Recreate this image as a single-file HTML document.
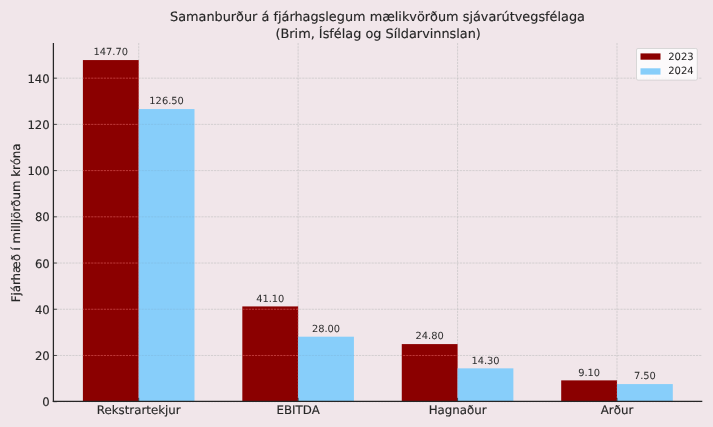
<!DOCTYPE html>
<html><head><meta charset="utf-8"><title>Samanburður</title>
<style>html,body{margin:0;padding:0;background:#f1e6ea;}body{width:713px;height:427px;overflow:hidden;}</style>
</head><body>
<svg width="713" height="427" viewBox="0 0 713 427" style="display:block;text-rendering:geometricPrecision;will-change:transform"><rect x="0" y="0" width="713" height="427" fill="#f1e6ea"/><defs><clipPath id="cr"><rect x="82.90" y="60.07" width="55.80" height="341.33"/><rect x="242.33" y="306.42" width="55.80" height="94.98"/><rect x="401.77" y="344.09" width="55.80" height="57.31"/><rect x="561.20" y="380.37" width="55.80" height="21.03"/></clipPath><clipPath id="cb"><rect x="138.70" y="109.06" width="55.80" height="292.34"/><rect x="298.13" y="336.69" width="55.80" height="64.71"/><rect x="457.57" y="368.35" width="55.80" height="33.05"/><rect x="617.00" y="384.07" width="55.80" height="17.33"/></clipPath></defs><g stroke="#c0c0c0" stroke-opacity="0.75" stroke-width="0.8" stroke-dasharray="2.2 0.95" fill="none"><line x1="53.40" y1="401.70" x2="702.30" y2="401.70"/><line x1="53.40" y1="355.48" x2="702.30" y2="355.48"/><line x1="53.40" y1="309.26" x2="702.30" y2="309.26"/><line x1="53.40" y1="263.04" x2="702.30" y2="263.04"/><line x1="53.40" y1="216.82" x2="702.30" y2="216.82"/><line x1="53.40" y1="170.60" x2="702.30" y2="170.60"/><line x1="53.40" y1="124.38" x2="702.30" y2="124.38"/><line x1="53.40" y1="78.16" x2="702.30" y2="78.16"/><line x1="138.70" y1="43.00" x2="138.70" y2="401.40"/><line x1="298.13" y1="43.00" x2="298.13" y2="401.40"/><line x1="457.57" y1="43.00" x2="457.57" y2="401.40"/><line x1="617.00" y1="43.00" x2="617.00" y2="401.40"/></g><g fill="#8b0000"><rect x="82.90" y="60.07" width="55.80" height="341.33"/><rect x="242.33" y="306.42" width="55.80" height="94.98"/><rect x="401.77" y="344.09" width="55.80" height="57.31"/><rect x="561.20" y="380.37" width="55.80" height="21.03"/></g><g fill="#87cefa"><rect x="138.70" y="109.06" width="55.80" height="292.34"/><rect x="298.13" y="336.69" width="55.80" height="64.71"/><rect x="457.57" y="368.35" width="55.80" height="33.05"/><rect x="617.00" y="384.07" width="55.80" height="17.33"/></g><g clip-path="url(#cr)" stroke="#e06060" stroke-opacity="0.75" stroke-width="0.8" stroke-dasharray="2.2 0.95" fill="none"><line x1="53.40" y1="401.70" x2="702.30" y2="401.70"/><line x1="53.40" y1="355.48" x2="702.30" y2="355.48"/><line x1="53.40" y1="309.26" x2="702.30" y2="309.26"/><line x1="53.40" y1="263.04" x2="702.30" y2="263.04"/><line x1="53.40" y1="216.82" x2="702.30" y2="216.82"/><line x1="53.40" y1="170.60" x2="702.30" y2="170.60"/><line x1="53.40" y1="124.38" x2="702.30" y2="124.38"/><line x1="53.40" y1="78.16" x2="702.30" y2="78.16"/><line x1="138.70" y1="43.00" x2="138.70" y2="401.40"/><line x1="298.13" y1="43.00" x2="298.13" y2="401.40"/><line x1="457.57" y1="43.00" x2="457.57" y2="401.40"/><line x1="617.00" y1="43.00" x2="617.00" y2="401.40"/></g><g clip-path="url(#cb)" stroke="#7fb8dc" stroke-opacity="0.6" stroke-width="0.8" stroke-dasharray="2.2 0.95" fill="none"><line x1="53.40" y1="401.70" x2="702.30" y2="401.70"/><line x1="53.40" y1="355.48" x2="702.30" y2="355.48"/><line x1="53.40" y1="309.26" x2="702.30" y2="309.26"/><line x1="53.40" y1="263.04" x2="702.30" y2="263.04"/><line x1="53.40" y1="216.82" x2="702.30" y2="216.82"/><line x1="53.40" y1="170.60" x2="702.30" y2="170.60"/><line x1="53.40" y1="124.38" x2="702.30" y2="124.38"/><line x1="53.40" y1="78.16" x2="702.30" y2="78.16"/><line x1="138.70" y1="43.00" x2="138.70" y2="401.40"/><line x1="298.13" y1="43.00" x2="298.13" y2="401.40"/><line x1="457.57" y1="43.00" x2="457.57" y2="401.40"/><line x1="617.00" y1="43.00" x2="617.00" y2="401.40"/></g><line x1="53.4" y1="43.00" x2="53.4" y2="402.0" stroke="#262626" stroke-width="1.25"/><line x1="52.8" y1="401.4" x2="702.30" y2="401.4" stroke="#262626" stroke-width="1.1"/><g stroke="#262626" stroke-width="0.8"><line x1="53.40" y1="401.70" x2="56.90" y2="401.70"/><line x1="53.40" y1="355.48" x2="56.90" y2="355.48"/><line x1="53.40" y1="309.26" x2="56.90" y2="309.26"/><line x1="53.40" y1="263.04" x2="56.90" y2="263.04"/><line x1="53.40" y1="216.82" x2="56.90" y2="216.82"/><line x1="53.40" y1="170.60" x2="56.90" y2="170.60"/><line x1="53.40" y1="124.38" x2="56.90" y2="124.38"/><line x1="53.40" y1="78.16" x2="56.90" y2="78.16"/><line x1="138.70" y1="401.40" x2="138.70" y2="397.90"/><line x1="298.13" y1="401.40" x2="298.13" y2="397.90"/><line x1="457.57" y1="401.40" x2="457.57" y2="397.90"/><line x1="617.00" y1="401.40" x2="617.00" y2="397.90"/></g><g font-family="'DejaVu Sans', 'Liberation Sans', sans-serif" fill="#262626" stroke="#262626" stroke-width="0.15" opacity="0.999"><text x="49.7" y="406.25" font-size="11.65" text-anchor="end">0</text><text x="49.7" y="360.03" font-size="11.65" text-anchor="end">20</text><text x="49.7" y="313.81" font-size="11.65" text-anchor="end">40</text><text x="49.7" y="267.59" font-size="11.65" text-anchor="end">60</text><text x="49.7" y="221.37" font-size="11.65" text-anchor="end">80</text><text x="49.7" y="175.15" font-size="11.65" text-anchor="end">100</text><text x="49.7" y="128.93" font-size="11.65" text-anchor="end">120</text><text x="49.7" y="82.71" font-size="11.65" text-anchor="end">140</text><text x="138.70" y="414.3" font-size="11.8" text-anchor="middle">Rekstrartekjur</text><text x="298.13" y="414.3" font-size="11.8" text-anchor="middle">EBITDA</text><text x="457.57" y="414.3" font-size="11.8" text-anchor="middle">Hagnaður</text><text x="617.00" y="414.3" font-size="11.8" text-anchor="middle">Arður</text><text x="110.80" y="55.27" font-size="9.85" fill="#303030" stroke="#303030" stroke-width="0.05" text-anchor="middle">147.70</text><text x="166.60" y="104.26" font-size="9.85" fill="#303030" stroke="#303030" stroke-width="0.05" text-anchor="middle">126.50</text><text x="270.23" y="301.62" font-size="9.85" fill="#303030" stroke="#303030" stroke-width="0.05" text-anchor="middle">41.10</text><text x="326.03" y="331.89" font-size="9.85" fill="#303030" stroke="#303030" stroke-width="0.05" text-anchor="middle">28.00</text><text x="429.67" y="339.29" font-size="9.85" fill="#303030" stroke="#303030" stroke-width="0.05" text-anchor="middle">24.80</text><text x="485.47" y="363.55" font-size="9.85" fill="#303030" stroke="#303030" stroke-width="0.05" text-anchor="middle">14.30</text><text x="589.10" y="375.57" font-size="9.85" fill="#303030" stroke="#303030" stroke-width="0.05" text-anchor="middle">9.10</text><text x="644.90" y="379.27" font-size="9.85" fill="#303030" stroke="#303030" stroke-width="0.05" text-anchor="middle">7.50</text><text x="377.5" y="20.7" font-size="12.85" text-anchor="middle">Samanburður á fjárhagslegum mælikvörðum sjávarútvegsfélaga</text><text x="378.2" y="37.5" font-size="12.85" text-anchor="middle">(Brim, Ísfélag og Síldarvinnslan)</text><text transform="translate(20.35 222.9) rotate(-90)" font-size="11.8" text-anchor="middle">Fjárhæð í milljörðum króna</text></g><rect x="636.5" y="48.5" width="60.8" height="31.6" rx="1.5" fill="#ffffff" fill-opacity="0.8" stroke="#cccccc" stroke-width="0.7"/><rect x="640.5" y="53.4" width="20" height="6.3" fill="#8b0000"/><rect x="640.5" y="68.3" width="20" height="6.3" fill="#87cefa"/><g font-family="'DejaVu Sans', 'Liberation Sans', sans-serif" fill="#262626" stroke="#262626" stroke-width="0.05" font-size="10" opacity="0.999"><text x="668.2" y="59.7">2023</text><text x="668.2" y="74.4">2024</text></g></svg>
</body></html>
